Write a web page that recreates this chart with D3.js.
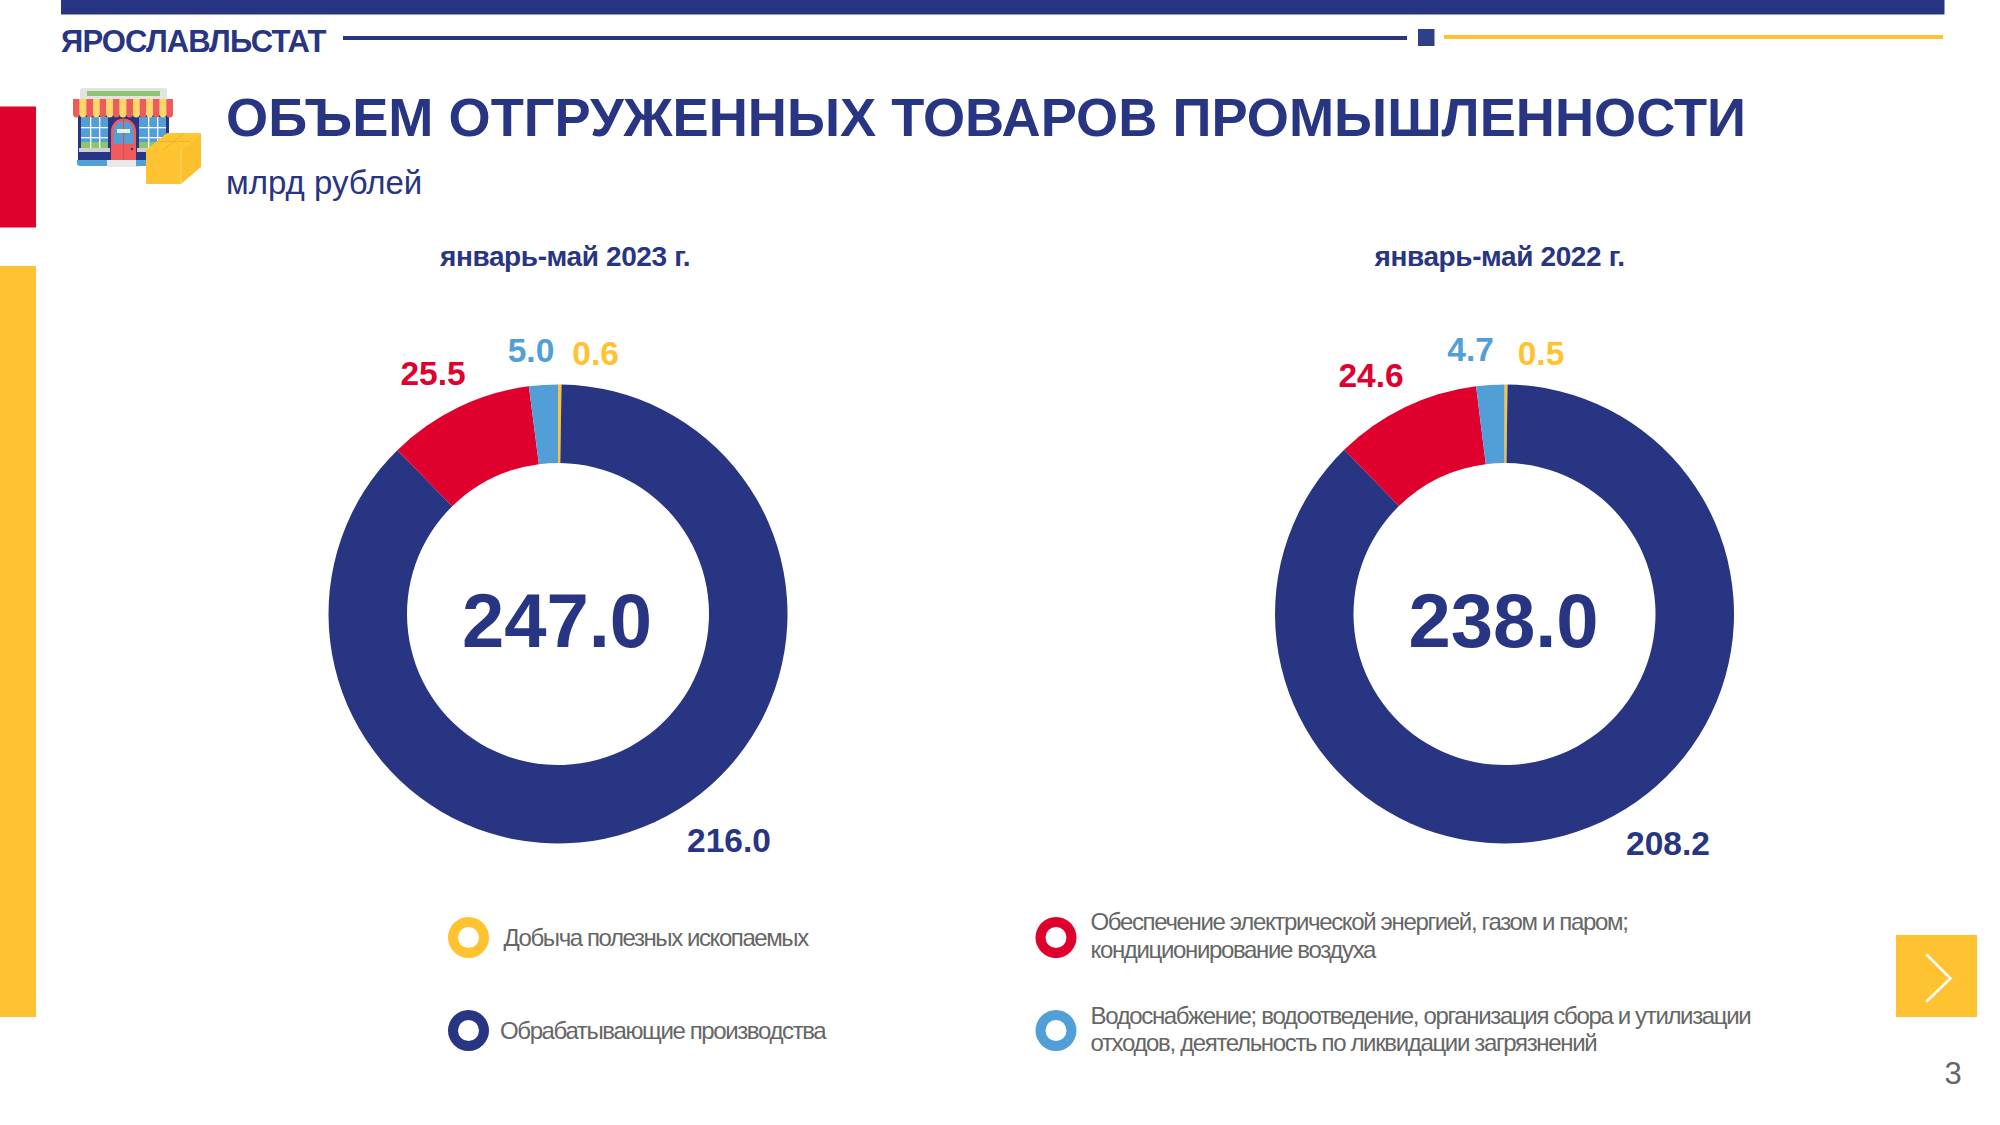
<!DOCTYPE html>
<html>
<head>
<meta charset="utf-8">
<script src="https://cdn.jsdelivr.net/npm/d3@7"></script>
<style>
html, body { margin: 0; padding: 0; background: #fff; }
svg { display: block; }
text { font-family: "Liberation Sans", Arial, sans-serif; }
</style>
</head>
<body>
<div id="chart"></div>
<script>
// data
const categories = ["Добыча полезных ископаемых", "Обрабатывающие производства", "Обеспечение электрической энергией", "Водоснабжение"]
const values2023 = [0.6, 216.0, 25.5, 5.0]
const values2022 = [0.5, 208.2, 24.6, 4.7]
const periods = ["январь-май 2023 г.", "январь-май 2022 г."]
const totals = ["247.0", "238.0"]
const colours = ["#ffc230", "#283582", "#e0002d", "#529fd8"]

const legendText = [
    ["Добыча полезных ископаемых"],
    ["Обрабатывающие производства"],
    ["Обеспечение электрической энергией, газом и паром;", "кондиционирование воздуха"],
    ["Водоснабжение; водоотведение, организация сбора и утилизации", "отходов, деятельность по ликвидации загрязнений"]
]

const navy = "#283582"
const yellow = "#ffc230"
const red = "#e0002d"
const blue = "#529fd8"
const grey = "#666666"

const svg = d3.select("#chart").append("svg")
    .attr("width", 2000)
    .attr("height", 1125)

const colour = d3.scaleOrdinal().domain(categories).range(colours)

// slide frame
const frame = svg.append("g")
frame.append("rect").attr("x", 61).attr("y", 0).attr("width", 1883.5).attr("height", 14.5).attr("fill", navy)
frame.append("rect").attr("x", 343).attr("y", 36).attr("width", 1064).attr("height", 4).attr("fill", navy)
frame.append("rect").attr("x", 1418).attr("y", 29).attr("width", 16.5).attr("height", 17).attr("fill", "#2f3f88")
frame.append("rect").attr("x", 1444).attr("y", 35).attr("width", 499).attr("height", 4).attr("fill", yellow)
frame.append("rect").attr("x", 0).attr("y", 106.5).attr("width", 36).attr("height", 121).attr("fill", red)
frame.append("rect").attr("x", 0).attr("y", 266).attr("width", 36).attr("height", 751).attr("fill", yellow)
frame.append("rect").attr("x", 1896).attr("y", 935).attr("width", 81).attr("height", 82).attr("fill", yellow)
frame.append("path").attr("d", "M1927 955L1950.500 978.500L1927 1001").attr("fill", "none")
    .attr("stroke", "#fff").attr("stroke-width", 2.5).attr("stroke-linecap", "round")

svg.append("text").attr("x", 61).attr("y", 51.5).attr("font-size", 31).attr("font-weight", "bold")
    .attr("letter-spacing", -0.85).attr("fill", navy).text("ЯРОСЛАВЛЬСТАТ")
svg.append("text").attr("x", 226).attr("y", 135.5).attr("font-size", 54.2).attr("font-weight", "bold")
    .attr("fill", navy).text("ОБЪЕМ ОТГРУЖЕННЫХ ТОВАРОВ ПРОМЫШЛЕННОСТИ")
svg.append("text").attr("x", 226).attr("y", 194).attr("font-size", 33)
    .attr("fill", navy).text("млрд рублей")
svg.append("text").attr("x", 1953).attr("y", 1084).attr("font-size", 31).attr("text-anchor", "middle")
    .attr("fill", grey).text("3")

// shop icon
const icon = svg.append("g")
icon.append("rect").attr("x", 80).attr("y", 88).attr("width", 87).attr("height", 24).attr("rx", 3).attr("fill", "#e3e3e3")
icon.append("rect").attr("x", 87).attr("y", 91).attr("width", 73).attr("height", 5).attr("fill", "#8cc56e")
icon.append("rect").attr("x", 78).attr("y", 115).attr("width", 91).attr("height", 45).attr("fill", navy)
;[[81, 27], [139, 27]].forEach(w => {
    icon.append("rect").attr("x", w[0]).attr("y", 117).attr("width", w[1]).attr("height", 31).attr("fill", blue)
    icon.append("rect").attr("x", w[0]).attr("y", 142).attr("width", w[1]).attr("height", 6).attr("fill", "#8cc56e")
    d3.range(1, 3).forEach(i => {
        icon.append("rect").attr("x", w[0] + i * 9).attr("y", 117).attr("width", 1.3).attr("height", 31).attr("fill", "#fff")
        icon.append("rect").attr("x", w[0]).attr("y", 117 + i * 10).attr("width", w[1]).attr("height", 1.3).attr("fill", "#fff")
    })
    icon.append("rect").attr("x", w[0] - 2).attr("y", 148).attr("width", w[1] + 4).attr("height", 4).attr("fill", "#cfcfcf")
})
icon.append("path").attr("d", "M111 160V131A12.500 12.500 0 0 1 136 131V160Z").attr("fill", "#ef5a5a")
icon.append("path").attr("d", "M113.500 144V131A10 10 0 0 1 133.500 131V144Z").attr("fill", blue)
icon.append("rect").attr("x", 123).attr("y", 119).attr("width", 1.2).attr("height", 41).attr("fill", "#e04c4c")
icon.append("rect").attr("x", 117).attr("y", 129).attr("width", 13).attr("height", 4).attr("fill", "#e8eedd")
icon.append("circle").attr("cx", 132).attr("cy", 149).attr("r", 1.2).attr("fill", navy)
icon.append("path").attr("d", "M77 160H109V166H80Q77 166 77 163Z").attr("fill", blue)
icon.append("rect").attr("x", 107).attr("y", 160).attr("width", 33).attr("height", 7).attr("fill", "#e8e8e8")
icon.append("rect").attr("x", 136).attr("y", 160).attr("width", 12).attr("height", 6).attr("fill", blue)
d3.range(15).forEach(i => {
    const w = 100 / 15
    icon.append("path")
        .attr("d", `M${73 + i * w} 99h${w}v15a${w / 2} 3.500 0 0 1 ${-w} 0Z`)
        .attr("fill", i % 2 ? "#ffd766" : "#ef5a5a")
})
icon.append("path").attr("d", "M146 150L167 133H201L181 150Z").attr("fill", "#ffc72f")
icon.append("rect").attr("x", 146).attr("y", 150).attr("width", 35).attr("height", 34).attr("fill", yellow)
icon.append("path").attr("d", "M181 150L201 133V167L181 184Z").attr("fill", "#fcc02d")
icon.append("path").attr("d", "M156 141.500H191M184 133L163 150").attr("fill", "none").attr("stroke", "#f0a92a").attr("stroke-width", 0.8)
icon.append("path").attr("d", "M181 150V184").attr("fill", "none").attr("stroke", "#ffe08a").attr("stroke-width", 0.8)

// donuts
const pie = d3.pie().sort(null).startAngle(0).endAngle(2 * Math.PI)
const arc = d3.arc().innerRadius(151).outerRadius(229.5)

const donuts = [
    { values: values2023, cx: 558, cy: 614, titleX: 565, labels: [[595.6, 364.5], [729, 852], [433, 385], [531, 362]] },
    { values: values2022, cx: 1504.5, cy: 614, titleX: 1499.5, labels: [[1541, 364.5], [1668, 855], [1371, 387], [1470.6, 361]] }
]

donuts.forEach((donut, k) => {
    const g = svg.append("g").attr("transform", `translate(${donut.cx},${donut.cy})`)

    g.selectAll("path")
        .data(pie(donut.values))
        .enter()
        .append("path")
        .attr("d", arc)
        .attr("fill", (d, i) => colour(categories[i]))

    g.append("text")
        .attr("x", -1)
        .attr("y", 33)
        .attr("text-anchor", "middle")
        .attr("font-size", 76)
        .attr("font-weight", "bold")
        .attr("fill", navy)
        .text(totals[k])

    svg.append("text")
        .attr("x", donut.titleX)
        .attr("y", 265.5)
        .attr("text-anchor", "middle")
        .attr("font-size", 28)
        .attr("font-weight", "bold")
        .attr("letter-spacing", -0.38)
        .attr("fill", navy)
        .text(periods[k])

    svg.selectAll(".value" + k)
        .data(donut.values)
        .enter()
        .append("text")
        .attr("class", "value" + k)
        .attr("x", (d, i) => donut.labels[i][0])
        .attr("y", (d, i) => donut.labels[i][1])
        .attr("text-anchor", "middle")
        .attr("font-size", 33.5)
        .attr("font-weight", "bold")
        .attr("fill", (d, i) => colour(categories[i]))
        .text(d => d.toFixed(1))
})

// legend
const legendLayout = [
    { x: 468.5, y: 937.5, textX: 503.5, spacing: -1.42, lines: [946] },
    { x: 468.5, y: 1030.5, textX: 500, spacing: -1.38, lines: [1039] },
    { x: 1056, y: 937.5, textX: 1090.5, spacing: -1.35, lines: [929.5, 957.5] },
    { x: 1056, y: 1030.5, textX: 1090.5, spacing: -1.35, lines: [1023.5, 1051] }
]
const legendArc = d3.arc().innerRadius(10.5).outerRadius(20.5).startAngle(0).endAngle(2 * Math.PI)

categories.forEach((c, i) => {
    const l = legendLayout[i]
    svg.append("path")
        .attr("transform", `translate(${l.x},${l.y})`)
        .attr("d", legendArc())
        .attr("fill", colour(c))
    legendText[i].forEach((line, j) => {
        svg.append("text")
            .attr("x", l.textX)
            .attr("y", l.lines[j])
            .attr("font-size", 24)
            .attr("letter-spacing", l.spacing)
            .attr("fill", grey)
            .text(line)
    })
})
</script>
</body>
</html>
